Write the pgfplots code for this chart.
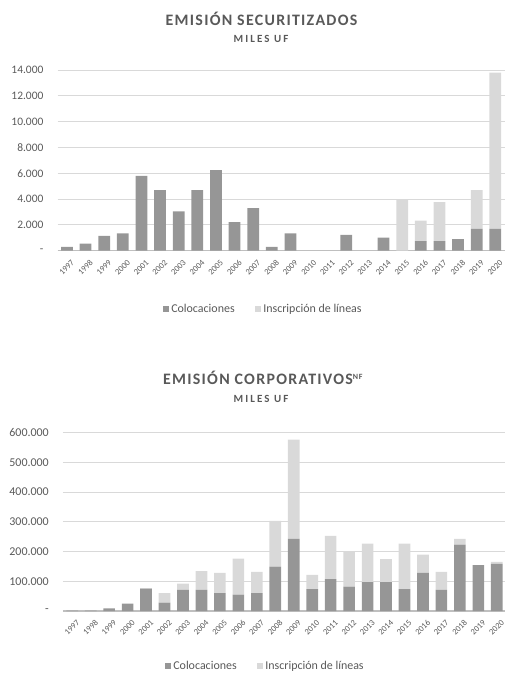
\documentclass[border=0pt]{standalone}
\usepackage{fontspec}
\setmainfont{Carlito}
\usepackage{pgfplots}
\usepackage{pgfplotstable}
\pgfplotsset{compat=1.18}

\definecolor{coloc}{HTML}{969696}
\definecolor{inscr}{HTML}{D9D9D9}
\definecolor{txt}{HTML}{595959}
\definecolor{gridc}{HTML}{D9D9D9}
\definecolor{axisln}{HTML}{BFBFBF}

% Emisión de securitizados (miles de UF)
\pgfplotstableread{
year coloc inscr
1997 300 0
1998 550 0
1999 1150 0
2000 1350 0
2001 5800 0
2002 4700 0
2003 3050 0
2004 4700 0
2005 6250 0
2006 2220 0
2007 3300 0
2008 290 0
2009 1350 0
2010 0 0
2011 0 0
2012 1220 0
2013 0 0
2014 1010 0
2015 0 3980
2016 750 1580
2017 750 3020
2018 900 0
2019 1700 3000
2020 1700 12100
}\securitizados

% Emisión de corporativos no financieros (miles de UF)
\pgfplotstableread{
year coloc inscr
1997 1500 0
1998 1000 0
1999 9000 0
2000 25000 0
2001 75000 2000
2002 28000 32000
2003 71000 21000
2004 71000 63000
2005 60000 68000
2006 55000 121000
2007 60000 72000
2008 149000 154000
2009 243000 334000
2010 74000 48000
2011 107000 146000
2012 82000 116000
2013 97000 130000
2014 97000 78000
2015 74000 153000
2016 128000 62000
2017 71000 61000
2018 223000 20000
2019 154000 0
2020 159000 6000
}\corporativos

\pgfplotsset{
  emision/.style={
    scale only axis,
    ybar stacked,
    bar width=0.63,
    xmin=-0.5, xmax=23.5, ymin=0,
    scaled y ticks=false,
    xtick={0,...,23},
    xticklabels={1997,1998,1999,2000,2001,2002,2003,2004,2005,2006,2007,2008,
                 2009,2010,2011,2012,2013,2014,2015,2016,2017,2018,2019,2020},
    axis x line*=bottom,
    axis y line*=left,
    y axis line style={draw=none},
    x axis line style={draw=axisln, line width=1.3bp},
    major tick length=0pt,
    ymajorgrids,
    grid style={draw=gridc, line width=0.9bp},
    xticklabel style={rotate=45, anchor=east, inner sep=0pt,
      font=\fontsize{8.5}{8.5}\selectfont, text=txt, yshift=-11.5bp, xshift=-3bp},
    yticklabel style={anchor=east, inner sep=0pt, text=txt, xshift=-14bp},
    legend columns=2,
    legend cell align=left,
    legend image code/.code={\fill[##1, draw=none] (0bp,-2.8bp) rectangle (5.6bp,2.8bp);},
    legend style={draw=none, fill=none, inner sep=0pt,
      font=\fontsize{12}{12}\selectfont, text=txt,
      nodes={inner sep=2.5bp},
      /tikz/every even column/.append style={column sep=18bp}},
  }
}

\begin{document}
\begin{tikzpicture}
\useasboundingbox (0,0) rectangle (505bp,-675bp);

% Títulos
\node[anchor=base, text=txt, font=\fontsize{16}{16}\selectfont\bfseries\addfontfeature{LetterSpace=8}]
  at (261.5bp,-25bp) {EMISIÓN SECURITIZADOS};
\node[anchor=base, text=txt, font=\fontsize{11}{11}\selectfont\bfseries\addfontfeature{LetterSpace=19}]
  at (261bp,-42.3bp) {MILES UF};

\node[anchor=base, text=txt, font=\fontsize{16}{16}\selectfont\bfseries\addfontfeature{LetterSpace=8}]
  at (262.8bp,-384.3bp) {EMISIÓN CORPORATIVOS\raisebox{5.2bp}{\fontsize{8}{8}\selectfont NF}};
\node[anchor=base, text=txt, font=\fontsize{11}{11}\selectfont\bfseries\addfontfeature{LetterSpace=19}]
  at (261bp,-402.3bp) {MILES UF};

% Securitizados
\begin{axis}[emision,
  at={(57.6bp,-250.7bp)}, anchor=south west,
  width=447bp, height=180.7bp,
  ymax=14000,
  ytick={0,2000,4000,6000,8000,10000,12000,14000},
  yticklabels={-,2.000,4.000,6.000,8.000,10.000,12.000,14.000},
  yticklabel style={font=\fontsize{11.5}{11.5}\selectfont},
  legend style={at={(0.461,-0.323)}, anchor=center},
]
\addplot[fill=coloc, draw=none] table[x expr=\coordindex, y=coloc] {\securitizados};
\addplot[fill=inscr, draw=none] table[x expr=\coordindex, y=inscr] {\securitizados};
\legend{Colocaciones, Inscripción de líneas}
\end{axis}

% Corporativos
\begin{axis}[emision,
  at={(63bp,-611bp)}, anchor=south west,
  width=443bp, height=178.3bp,
  ymax=600000,
  ytick={0,100000,200000,300000,400000,500000,600000},
  yticklabels={-,100.000,200.000,300.000,400.000,500.000,600.000},
  yticklabel style={font=\fontsize{12}{12}\selectfont},
  legend style={at={(0.4576,-0.308)}, anchor=center},
]
\addplot[fill=coloc, draw=none] table[x expr=\coordindex, y=coloc] {\corporativos};
\addplot[fill=inscr, draw=none] table[x expr=\coordindex, y=inscr] {\corporativos};
\legend{Colocaciones, Inscripción de líneas}
\end{axis}
\end{tikzpicture}
\end{document}
